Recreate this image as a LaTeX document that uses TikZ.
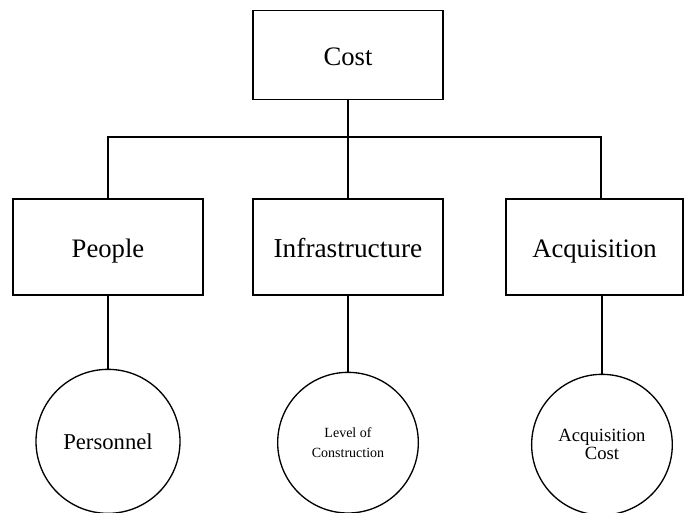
\documentclass[tikz,border=0pt]{standalone}
\usepackage{fontspec}
\setmainfont{Liberation Serif}
\usetikzlibrary{positioning}

\begin{document}
\begin{tikzpicture}[
  x=0.75pt, y=-0.75pt,
  box/.style={rectangle, draw, line width=1pt,
              minimum width=#1, minimum height=72pt,
              text height=18pt, text depth=3pt,
              font=\fontsize{20}{24}\selectfont, inner sep=2pt},
  box/.default=142.5pt,
  leaf/.style={circle, draw, line width=1pt, minimum size=#1,
               inner sep=0pt, align=center},
  leaf/.default=105.5pt,
  link/.style={line width=1pt}
]
  \useasboundingbox (0,0) rectangle (685,512);

  % ── top level ──
  \node[box, minimum height=66.75pt] (cost) at (348,55) {Cost};

  % ── second level ──
  \node[box] (people) at (108,247) {People};
  \node[box, font=\fontsize{20.5}{24}\selectfont] (infra) at (348,247) {Infrastructure};
  \node[box=132.75pt] (acq) at (594.5,247) {Acquisition};

  \coordinate (jr) at (601,137);
  \draw[link] (cost.south) -- (infra.north);
  \draw[link] (people.north) |- (jr) -- (jr |- acq.north);

  % ── leaves ──
  \node[leaf=108pt, below=54.75pt of people,
        font=\fontsize{17}{20}\selectfont] (personnel) {Personnel};
  \node[leaf, below=57pt of infra,
        font=\fontsize{10.5}{15}\selectfont] (level) {Level of\\Construction};
  \node[leaf, below=58.5pt of acq, xshift=5.6pt,
        font=\fontsize{14}{13.5}\selectfont] (acqcost) {Acquisition\\Cost};

  \draw[link] (people.south) -- (personnel.north);
  \draw[link] (infra.south) -- (level.north);
  \draw[link] (acq.south -| acqcost.north) -- (acqcost.north);
\end{tikzpicture}
\end{document}
